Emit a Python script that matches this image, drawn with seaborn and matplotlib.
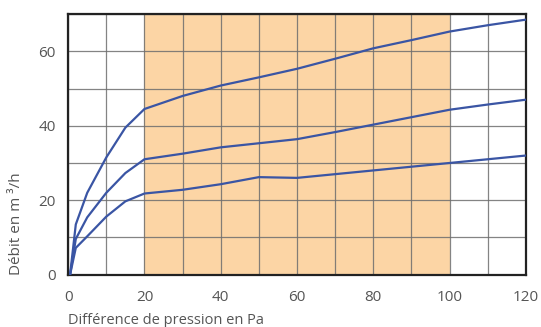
import numpy as np
import pandas as pd
import seaborn as sns
import matplotlib.pyplot as plt

# pressure difference (Pa)
pression = [0.5, 2, 5, 10, 15, 20, 30, 40, 50, 60, 70, 80, 90, 100, 110, 120]

# flow rates (m3/h) for the three curves
debit_haut = [0, 13.5, 22, 31.5, 39.5, 44.5, 48, 50.8, 53, 55.3, 58, 60.8, 63, 65.3, 67, 68.5]
debit_milieu = [0, 9.6, 15.4, 22, 27.3, 31, 32.5, 34.2, 35.3, 36.4, 38.3, 40.3, 42.3, 44.3, 45.7, 47]
debit_bas = [0, 7.2, 10.3, 15.6, 19.7, 21.8, 22.8, 24.3, 26.2, 26, 27, 28, 29, 30, 31, 32]

zone = (20, 100)

df = pd.DataFrame({
    'Pression': pression * 3,
    'Debit': debit_haut + debit_milieu + debit_bas,
    'Courbe': ['haut'] * len(pression) + ['milieu'] * len(pression) + ['bas'] * len(pression),
})

sns.set_style("white")
plt.rcParams['font.family'] = ['Open Sans', 'DejaVu Sans']

fig, ax = plt.subplots(figsize=(5.41, 3.27), dpi=100)
fig.subplots_adjust(left=0.126, right=0.972, top=0.957, bottom=0.16)

ax.axvspan(zone[0], zone[1], color='#fcd5a5', zorder=0, lw=0)
sns.lineplot(data=df, x='Pression', y='Debit', hue='Courbe', palette=['#3a55a4'] * 3,
             linewidth=1.6, legend=False, ax=ax, zorder=3)

ax.set_xlim(0, 120)
ax.set_ylim(0, 70)
ax.set_xticks(np.arange(0, 121, 10))
ax.set_yticks(np.arange(0, 71, 10))
ax.set_xticklabels([str(v) if v % 20 == 0 else '' for v in range(0, 121, 10)])
ax.set_yticklabels([str(v) if v % 20 == 0 else '' for v in range(0, 71, 10)])
ax.grid(True, color='#6e6e6e', linewidth=0.9, alpha=0.85, zorder=1)
ax.set_axisbelow(True)

for s in ax.spines.values():
    s.set_color('#222222')
    s.set_linewidth(1.6)

ax.tick_params(axis='both', length=0, labelsize=11, labelcolor='#555555')
ax.tick_params(axis='x', pad=11)
ax.tick_params(axis='y', pad=9)
ax.set_xlabel("Différence de pression en Pa", fontsize=10.5, color='#555555', loc='left', labelpad=6)
ax.set_ylabel("Débit en m ³/h", fontsize=11, color='#555555', loc='bottom', labelpad=10)

plt.savefig('out.png', dpi=100)
